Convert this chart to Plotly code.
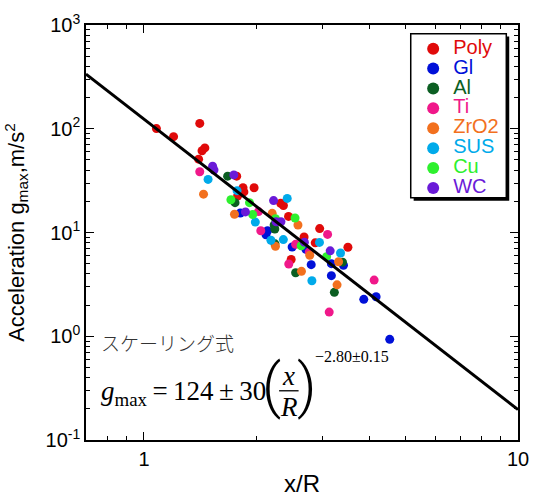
import math
import plotly.graph_objects as go

# ---- data: x/R and peak acceleration g_max [m/s^2] per material ----
poly_x = [1.08, 1.20, 1.41, 1.455, 1.43, 1.40, 1.77, 1.84, 1.85, 1.97, 1.78, 2.32, 2.36, 2.435, 2.95, 2.68, 2.87, 3.51, 2.475]
poly_y = [100.4, 83.9, 112.5, 65.4, 61.4, 50.9, 34.9, 27.0, 24.6, 27.0, 22.5, 19.1, 18.2, 14.3, 10.9, 9.04, 7.95, 7.21, 5.49]

gl_x = [1.81, 2.14, 2.12, 2.49, 2.71, 2.80, 3.17, 3.415, 3.17, 3.87, 4.175, 4.54]
gl_y = [15.4, 10.4, 9.52, 7.25, 6.90, 4.90, 5.01, 4.83, 3.84, 2.27, 2.40, 0.933]

al_x = [1.674, 1.752, 2.229, 2.238, 2.24, 2.544, 3.395, 3.229]
al_y = [34.9, 19.4, 11.8, 10.8, 7.78, 4.09, 5.18, 2.65]

ti_x = [1.41, 2.024, 2.053, 3.097, 2.544, 2.767, 2.439, 4.125, 3.128]
ti_y = [38.5, 15.9, 10.4, 9.58, 7.69, 6.48, 4.97, 3.48, 1.71]

zro2_x = [1.443, 1.746, 2.202, 2.581, 2.247, 2.775, 2.637, 3.314, 3.283]
zro2_y = [23.4, 15.0, 15.3, 11.8, 7.36, 6.02, 4.22, 5.22, 3.13]

sus_x = [1.484, 1.774, 1.985, 2.185, 2.416, 2.359, 2.946, 3.354, 2.812]
sus_y = [32.5, 25.3, 12.6, 8.43, 21.3, 8.55, 8.02, 6.34, 3.43]

cu_x = [1.708, 1.915, 1.953, 2.247, 2.535, 2.633, 3.078]
cu_y = [20.7, 19.4, 14.9, 13.6, 13.8, 7.46, 5.85]

wc_x = [1.526, 1.539, 1.739, 2.221, 1.868, 2.256, 2.324, 2.685, 3.147]
wc_y = [43.6, 40.0, 35.9, 20.3, 15.8, 12.7, 12.7, 8.07, 6.66]

materials = ["Poly", "Gl", "Al", "Ti", "ZrO2", "SUS", "Cu", "WC"]
colors = ["#e00a0a", "#0010d8", "#0b5e22", "#f0188a", "#f2701e", "#00aaea", "#2ef02e", "#6a1ad8"]
series_x = [poly_x, gl_x, al_x, ti_x, zro2_x, sus_x, cu_x, wc_x]
series_y = [poly_y, gl_y, al_y, ti_y, zro2_y, sus_y, cu_y, wc_y]

# scaling law g_max = A * (x/R)^b
fit_A = 124
fit_b = -2.80
fit_x = [0.7, 10]
fit_y = [fit_A * v ** fit_b for v in fit_x]

# axis ticks
x_major = [1, 10]
x_major_text = ["1", "10"]
x_minor = [0.8, 0.9, 2, 3, 4, 5, 6, 7, 8, 9]
y_major = [0.1, 1, 10, 100, 1000]
y_major_text = ["10<sup>-1</sup>", "10<sup>0</sup>", "10<sup>1</sup>", "10<sup>2</sup>", "10<sup>3</sup>"]
y_minor = [m * 10 ** e for e in range(-1, 3) for m in range(2, 10)]

W, H = 540, 504
ML, MR, MT, MB = 86, 11, 22, 52
PW, PH = W - ML - MR, H - MT - MB


def px(xp):
    return (xp - ML) / PW


def py(yp):
    return 1 - (yp - MT) / PH


sans = "Liberation Sans, Arial, sans-serif"
serif = "Liberation Serif, Times New Roman, serif"

fig = go.Figure()
for name, c, xs, ys in zip(materials, colors, series_x, series_y):
    fig.add_trace(go.Scatter(
        x=xs, y=ys, mode="markers",
        # coloured, larger label text; the small legend font keeps rows compact
        name=f"<span style='font-size:20px;color:{c}'>{name}</span>",
        marker=dict(color=c, size=9, line=dict(width=0)),
    ))

fig.add_trace(go.Scatter(
    x=fit_x, y=fit_y, mode="lines", showlegend=False,
    line=dict(color="black", width=3),
))

axis_font = dict(family=sans, size=20, color="black")

fig.update_xaxes(
    type="log", range=[math.log10(0.7), 1],
    tickmode="array", tickvals=x_major, ticktext=x_major_text,
    ticks="inside", ticklen=8, tickwidth=1.2, tickcolor="black",
    minor=dict(tickmode="array", tickvals=x_minor, ticks="inside", ticklen=4, tickwidth=1, tickcolor="black"),
    showline=True, linecolor="black", linewidth=1.5, mirror="ticks",
    showgrid=False, zeroline=False, tickfont=axis_font,
    title=dict(text="x/R", font=dict(family=sans, size=24, color="black"), standoff=6),
)
fig.update_yaxes(
    type="log", range=[-1, 3],
    tickmode="array", tickvals=y_major, ticktext=y_major_text,
    ticks="inside", ticklen=8, tickwidth=1.2, tickcolor="black",
    minor=dict(tickmode="array", tickvals=y_minor, ticks="inside", ticklen=4, tickwidth=1, tickcolor="black"),
    showline=True, linecolor="black", linewidth=1.5, mirror="ticks",
    showgrid=False, zeroline=False, tickfont=axis_font,
    title=dict(text="Acceleration g<sub>max</sub>,m/s<sup>2</sup>",
               font=dict(family=sans, size=22, color="black")),
)

annotations = [
    dict(text="スケーリング式", x=px(99), y=py(351), xanchor="left", yanchor="middle",
         font=dict(family="Noto Sans CJK JP", size=19, color="#333333", weight=300)),
    dict(text="<i>g</i><sub>max</sub>\u2009=\u2009124\u2009±\u200930", x=px(99), y=py(403),
         xanchor="left", yanchor="middle",
         font=dict(family=serif, size=27, color="black")),
    dict(text="(", x=px(276), y=py(396), xanchor="center", yanchor="middle",
         font=dict(family="Roboto", size=60, color="black", weight=300)),
    dict(text=")", x=px(313), y=py(396), xanchor="center", yanchor="middle",
         font=dict(family="Roboto", size=60, color="black", weight=300)),
    dict(text="<i>x</i>", x=px(294), y=py(386), xanchor="center", yanchor="middle",
         font=dict(family=serif, size=27, color="black")),
    dict(text="<i>R</i>", x=px(294), y=py(418), xanchor="center", yanchor="middle",
         font=dict(family=serif, size=27, color="black")),
    dict(text="−2.80±0.15", x=px(319), y=py(365), xanchor="left", yanchor="middle",
         font=dict(family=serif, size=16, color="black")),
]
for a in annotations:
    a.update(xref="paper", yref="paper", showarrow=False)

shapes = [
    # fraction bar
    dict(type="line", xref="paper", yref="paper", x0=px(284), x1=px(304), y0=py(401), y1=py(401),
         line=dict(color="black", width=1.3)),
    # legend frame with drop shadow
    dict(type="rect", xref="paper", yref="paper", layer="above",
         x0=px(422), x1=px(520), y0=py(34), y1=py(204),
         fillcolor="black", line=dict(width=0)),
    dict(type="rect", xref="paper", yref="paper", layer="above",
         x0=px(419), x1=px(517), y0=py(31), y1=py(201),
         fillcolor="white", line=dict(color="black", width=1.5)),
]

fig.update_layout(
    width=W, height=H,
    margin=dict(l=ML, r=MR, t=MT, b=MB),
    paper_bgcolor="white", plot_bgcolor="white",
    font=dict(family=sans, color="black"),
    legend=dict(x=px(421.5), y=py(31), xanchor="left", yanchor="top",
                bgcolor="rgba(0,0,0,0)", borderwidth=0,
                font=dict(family=sans, size=13), tracegroupgap=0, itemsizing="constant"),
    annotations=annotations,
    shapes=shapes,
)

fig.write_html("out.html")
